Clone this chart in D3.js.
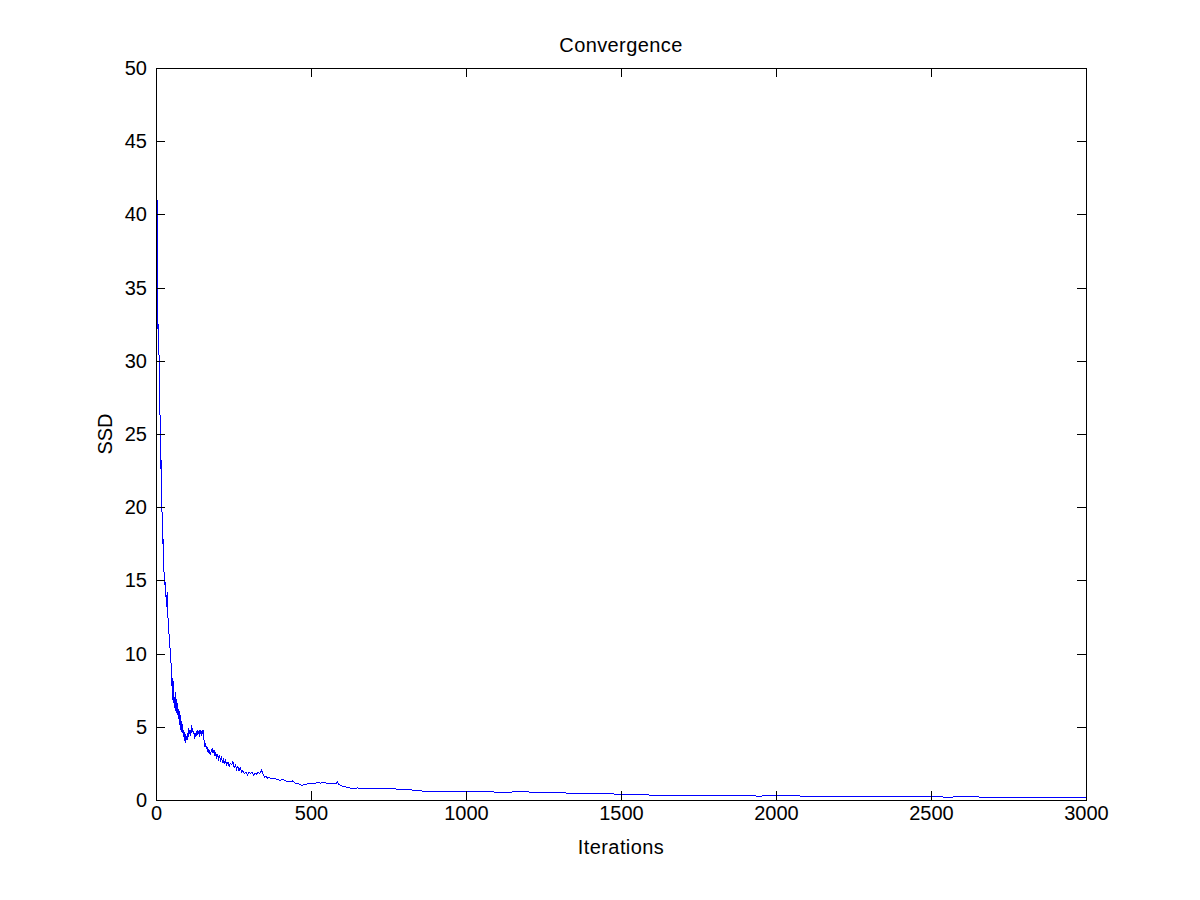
<!DOCTYPE html>
<html>
<head>
<meta charset="utf-8">
<script src="https://cdn.jsdelivr.net/npm/d3@7"></script>
<style>
  body { margin: 0; background: #fff; }
  svg { display: block; }
  text { font-family: "Liberation Sans", Arial, sans-serif; }
</style>
</head>
<body>
<script>
// SSD per iteration
var iterations = [1, 2, 3, 4, 5, 6, 7, 8, 9, 10, 11, 12, 13, 14, 15, 16, 17, 18, 19, 20,
  21, 22, 23, 24, 25, 26, 27, 28, 30, 32, 34, 36, 38, 40, 42, 44, 46, 48, 50, 52,
  53, 54, 55, 56, 57, 58, 60, 62, 64, 66, 68, 70, 72, 74, 76, 78, 80, 82, 84, 86,
  88, 90, 92, 94, 96, 98, 100, 102, 104, 106, 108, 110, 112, 114, 116, 118, 120, 122, 124, 126,
  128, 130, 132, 134, 136, 138, 140, 142, 144, 146, 148, 150, 152, 154, 156, 158, 160, 162, 164, 166,
  168, 170, 172, 175, 178, 181, 184, 187, 190, 193, 196, 199, 202, 205, 208, 211, 214, 217, 220, 224,
  228, 232, 236, 240, 244, 248, 252, 256, 260, 264, 268, 272, 276, 280, 285, 290, 295, 300, 305, 310,
  315, 320, 325, 330, 335, 340, 345, 350, 355, 360, 365, 370, 380, 390, 400, 410, 420, 430, 440, 450,
  460, 470, 480, 490, 500, 510, 520, 530, 540, 550, 560, 570, 580, 585, 590, 600, 610, 620, 630, 650,
  670, 690, 710, 725, 740, 760, 790, 820, 850, 880, 910, 950, 1000, 1050, 1100, 1130, 1170, 1200, 1250, 1300,
  1350, 1400, 1450, 1500, 1550, 1600, 1650, 1700, 1750, 1800, 1850, 1900, 1950, 2000, 2050, 2100, 2150, 2200, 2250, 2300,
  2400, 2500, 2550, 2600, 2700, 2800, 2900, 3000];

var ssd = [42.8, 40.1, 38.5, 41.0, 36.2, 33.0, 31.3, 32.5, 31.4, 30.0, 28.2, 26.9, 26.3, 24.8, 22.6, 23.5, 21.9, 20.6, 20.2, 18.9,
  19.3, 17.5, 17.8, 16.6, 16.9, 15.4, 15.0, 14.7, 14.9, 14.0, 13.2, 14.2, 12.6, 12.1, 11.3, 10.7, 10.2, 9.5, 8.9, 7.6,
  8.3, 6.8, 7.9, 6.6, 8.1, 7.0, 6.3, 7.4, 6.1, 6.9, 5.8, 6.6, 5.5, 6.2, 5.1, 5.8, 4.8, 5.4, 4.6, 5.2,
  4.3, 4.8, 4.0, 4.5, 3.9, 4.4, 4.1, 4.6, 4.3, 4.9, 4.5, 4.8, 4.4, 5.1, 4.6, 4.9, 4.5, 4.7, 4.2, 4.6,
  4.3, 4.7, 4.4, 4.8, 4.5, 4.7, 4.3, 4.8, 4.6, 4.4, 4.7, 4.5, 4.8, 4.2, 4.0, 3.6, 3.9, 3.5, 3.7, 3.3,
  3.5, 3.2, 3.4, 3.1, 3.3, 3.5, 3.2, 3.4, 3.0, 3.2, 2.9, 3.1, 2.8, 3.0, 2.7, 2.9, 2.6, 2.8, 2.5, 2.7,
  2.4, 2.6, 2.3, 2.5, 2.4, 2.6, 2.2, 2.4, 2.1, 2.3, 2.0, 2.2, 1.9, 2.0, 1.8, 1.9, 1.7, 1.9, 1.8, 1.9,
  1.7, 1.85, 1.75, 1.9, 1.8, 2.05, 1.8, 1.55, 1.6, 1.5, 1.55, 1.45, 1.5, 1.4, 1.35, 1.4, 1.3, 1.25, 1.3, 1.15,
  1.1, 1.0, 1.05, 1.1, 1.15, 1.1, 1.2, 1.15, 1.2, 1.15, 1.1, 1.15, 1.1, 1.25, 1.05, 0.95, 0.9, 0.85, 0.8, 0.82,
  0.78, 0.75, 0.8, 0.82, 0.78, 0.76, 0.74, 0.7, 0.62, 0.6, 0.58, 0.57, 0.55, 0.57, 0.54, 0.52, 0.58, 0.55, 0.5, 0.5,
  0.45, 0.43, 0.42, 0.4, 0.38, 0.33, 0.32, 0.32, 0.31, 0.3, 0.3, 0.28, 0.27, 0.3, 0.29, 0.26, 0.25, 0.24, 0.23, 0.24,
  0.23, 0.22, 0.2, 0.21, 0.2, 0.2, 0.19, 0.18];

var xTicks = [0, 500, 1000, 1500, 2000, 2500, 3000];
var yTicks = [0, 5, 10, 15, 20, 25, 30, 35, 40, 45, 50];

var width = 1200, height = 900;
var margin = {top: 68, right: 114, bottom: 100, left: 156};
var fontSize = 20;

var svg = d3.select("body").append("svg")
    .attr("width", width)
    .attr("height", height);

var x = d3.scaleLinear().domain([0, 3000]).range([margin.left, width - margin.right]);
var y = d3.scaleLinear().domain([0, 50]).range([height - margin.bottom, margin.top]);

var points = iterations.map(function(it, i) { return [it, ssd[i]]; });

// curve
var line = d3.line()
    .x(function(d) { return x(d[0]); })
    .y(function(d) { return y(d[1]); });

svg.append("path")
    .datum(points)
    .attr("fill", "none")
    .attr("stroke", "#0000ff")
    .attr("stroke-width", 1)
    .attr("shape-rendering", "crispEdges")
    .attr("d", line);

// axes, ticks pointing inward on every side
function styleAxis(g) {
  g.attr("shape-rendering", "crispEdges");
  g.select(".domain").attr("stroke", "#000");
  g.selectAll(".tick line").attr("stroke", "#000");
  g.selectAll("text")
    .attr("fill", "#000")
    .style("font-size", fontSize + "px")
    .style("font-family", '"Liberation Sans", Arial, sans-serif');
}

svg.append("g")
    .attr("transform", `translate(0, ${height - margin.bottom})`)
    .call(d3.axisBottom(x).tickValues(xTicks).tickSize(-9).tickSizeOuter(0).tickPadding(6).tickFormat(d3.format("d")))
    .call(styleAxis);

svg.append("g")
    .attr("transform", `translate(0, ${margin.top})`)
    .call(d3.axisTop(x).tickValues(xTicks).tickSize(-9).tickSizeOuter(0).tickFormat(""))
    .call(styleAxis);

svg.append("g")
    .attr("transform", `translate(${margin.left}, 0)`)
    .call(d3.axisLeft(y).tickValues(yTicks).tickSize(-9).tickSizeOuter(0).tickPadding(9).tickFormat(d3.format("d")))
    .call(styleAxis);

svg.append("g")
    .attr("transform", `translate(${width - margin.right}, 0)`)
    .call(d3.axisRight(y).tickValues(yTicks).tickSize(-9).tickSizeOuter(0).tickFormat(""))
    .call(styleAxis);

// labels
svg.append("text")
    .attr("x", (margin.left + width - margin.right) / 2)
    .attr("y", 52)
    .attr("text-anchor", "middle")
    .style("font-size", fontSize + "px")
    .style("letter-spacing", "0.4px")
    .text("Convergence");

svg.append("text")
    .attr("x", (margin.left + width - margin.right) / 2)
    .attr("y", 854)
    .attr("text-anchor", "middle")
    .style("font-size", fontSize + "px")
    .style("letter-spacing", "0.4px")
    .text("Iterations");

svg.append("text")
    .attr("transform", `translate(112, ${(margin.top + height - margin.bottom) / 2}) rotate(-90)`)
    .attr("text-anchor", "middle")
    .style("font-size", fontSize + "px")
    .text("SSD");
</script>
</body>
</html>
